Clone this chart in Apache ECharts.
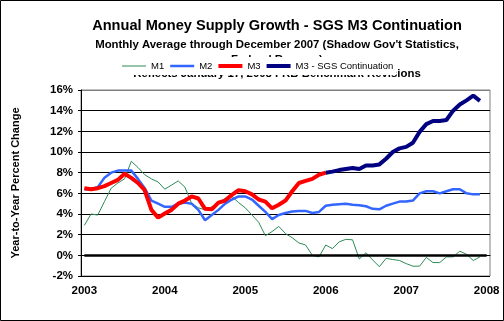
<!DOCTYPE html>
<html><head><meta charset="utf-8">
<script src="https://cdn.jsdelivr.net/npm/echarts@6/dist/echarts.min.js"></script>
<style>html,body{margin:0;padding:0;background:#fff}#c{width:504px;height:321px}</style>
</head><body><div id="c"></div>
<script>
const years = ['2003','2004','2005','2006','2007','2008'];
const yTicks = [-2,0,2,4,6,8,10,12,14,16];
const m1 = [2.9,4.0,3.9,5.2,6.5,7.0,7.4,9.1,8.5,7.8,7.4,7.1,6.4,6.8,7.2,6.6,5.0,4.6,4.4,4.7,5.1,5.5,5.7,5.1,4.6,3.9,3.2,1.9,2.3,2.8,2.1,1.7,1.2,1.0,0.0,-0.15,1.0,0.65,1.3,1.55,1.5,-0.35,0.25,-0.45,-1.1,-0.3,-0.4,-0.5,-0.8,-1.05,-1.05,-0.2,-0.7,-0.7,-0.15,-0.15,0.4,0.1,-0.5,-0.15];
const m2 = [6.4,6.4,6.6,7.5,8.0,8.2,8.2,8.2,7.4,6.5,5.3,5.0,4.7,4.7,5.0,5.1,5.0,4.4,3.4,3.9,4.4,5.0,5.4,5.7,5.7,5.4,4.8,4.2,3.5,3.9,4.1,4.25,4.3,4.3,4.1,4.2,4.8,4.9,4.95,5.0,4.9,4.85,4.75,4.5,4.45,4.8,5.0,5.2,5.2,5.3,6.0,6.2,6.2,6.0,6.2,6.4,6.4,6.0,5.9,5.9];
const m3 = [6.5,6.4,6.5,6.7,7.0,7.3,7.9,7.5,7.0,6.3,4.4,3.65,4.05,4.4,5.0,5.3,5.7,5.5,4.5,4.45,5.1,5.3,5.85,6.3,6.2,5.9,5.4,5.2,4.55,4.9,5.3,6.2,7.0,7.2,7.4,7.8,8.0];
const sgsStart = '2006-01';
const sgs = [8.0,8.1,8.25,8.35,8.45,8.35,8.7,8.7,8.8,9.35,10.0,10.35,10.5,10.9,11.95,12.7,13.0,13.0,13.1,14.0,14.6,15.0,15.45,14.95];
const seriesNames = ['M1','M2','M3','M3 - SGS Continuation'];

const months = [];
years.forEach(function(y, yi){
  for (let m = 1; m <= 12; m++) {
    if (yi === years.length - 1 && m > 1) break;
    months.push(y + '-' + (m < 10 ? '0' + m : m));
  }
});
const sgsIdx = months.indexOf(sgsStart);
const sgsData = months.map(function(_, i){ return i >= sgsIdx && i - sgsIdx < sgs.length ? sgs[i - sgsIdx] : null; });

const FF = 'Liberation Sans, Arial, sans-serif';
const chart = echarts.init(document.getElementById('c'), null, {renderer: 'canvas'});
const band = function(t){ const a = (12 - t) / 2; return 'path://M0,0M0,12M0,' + a + 'H24V' + (a + t) + 'H0Z'; };
chart.setOption({
  animation: false,
  backgroundColor: '#fff',
  title: [
    {text: 'Annual Money Supply Growth - SGS M3 Continuation', left: 277, top: 18, padding: 0, textAlign: 'center',
     textStyle: {fontFamily: FF, fontSize: 14.6, fontWeight: 'bold', color: '#000'}},
    {text: "Monthly Average through December 2007 (Shadow Gov't Statistics,\nFederal Reserve)\nReflects January 17, 2008 FRB Benchmark Revisions",
     left: 277, top: 38, padding: 0, textAlign: 'center',
     textStyle: {fontFamily: FF, fontSize: 11.4, fontWeight: 'bold', color: '#000', lineHeight: 14.5}}
  ],
  legend: {
    z: 20, left: 117, top: 57, padding: [3, 3, 3, 5], itemGap: 6, itemWidth: 24, itemHeight: 12,
    backgroundColor: '#fff',
    textStyle: {fontFamily: FF, fontSize: 9.5, color: '#000'},
    data: [
      {name: seriesNames[0], icon: band(1)},
      {name: seriesNames[1], icon: band(2.5)},
      {name: seriesNames[2], icon: band(4)},
      {name: seriesNames[3], icon: band(4)}
    ]
  },
  grid: {left: 81, right: 14, top: 90, bottom: 45, show: true, borderColor: '#808080', borderWidth: 1, backgroundColor: '#fff'},
  xAxis: {
    type: 'category', data: months, boundaryGap: true,
    axisLine: {lineStyle: {color: '#000', width: 1}},
    axisTick: {interval: 0, length: 5, lineStyle: {color: '#000'}},
    axisLabel: {interval: function(i){ return i % 12 === 0; }, formatter: function(v){ return v.slice(0,4); },
      fontFamily: FF, fontSize: 11.5, fontWeight: 'bold', color: '#000', margin: 9},
    splitLine: {show: false}
  },
  yAxis: {
    type: 'value', min: yTicks[0], max: yTicks[yTicks.length-1], interval: 2,
    name: 'Year-to-Year Percent Change', nameLocation: 'middle', nameRotate: 90, nameGap: 60,
    nameTextStyle: {fontFamily: FF, fontSize: 11, fontWeight: 'bold', color: '#000'},
    axisLine: {show: true, lineStyle: {color: '#000'}},
    axisTick: {show: true, length: 3, lineStyle: {color: '#000'}},
    axisLabel: {formatter: '{value}%', fontFamily: FF, fontSize: 11.5, fontWeight: 'bold', color: '#000', margin: 8},
    splitLine: {lineStyle: {color: ['#000','#000','#000','#000','#000','#000','#000','#000','#000','#808080'], width: 1}}
  },
  series: [
    {name: seriesNames[0], type: 'line', data: m1, symbol: 'none', lineStyle: {width: 1, color: '#2E8B57'}, itemStyle: {color: '#2E8B57'},
     markLine: {silent: true, symbol: 'none', label: {show: false}, lineStyle: {color: '#000', width: 2.5, type: 'solid'},
       data: [[{coord: [months[0], 0]}, {coord: [months[months.length-1], 0]}]]}},
    {name: seriesNames[1], type: 'line', data: m2, symbol: 'none', lineStyle: {width: 2.5, color: '#3366FF'}, itemStyle: {color: '#3366FF'}},
    {name: seriesNames[2], type: 'line', data: m3, symbol: 'none', lineStyle: {width: 4, color: '#FF0000'}, itemStyle: {color: '#FF0000'}},
    {name: seriesNames[3], type: 'line', data: sgsData, symbol: 'none', lineStyle: {width: 4, color: '#000080'}, itemStyle: {color: '#000080'}}
  ],
  graphic: [{type: 'rect', silent: true, z: 100, shape: {x: 0.5, y: 0.5, width: 503, height: 320}, style: {fill: null, stroke: '#000', lineWidth: 1}}]
});
</script></body></html>
